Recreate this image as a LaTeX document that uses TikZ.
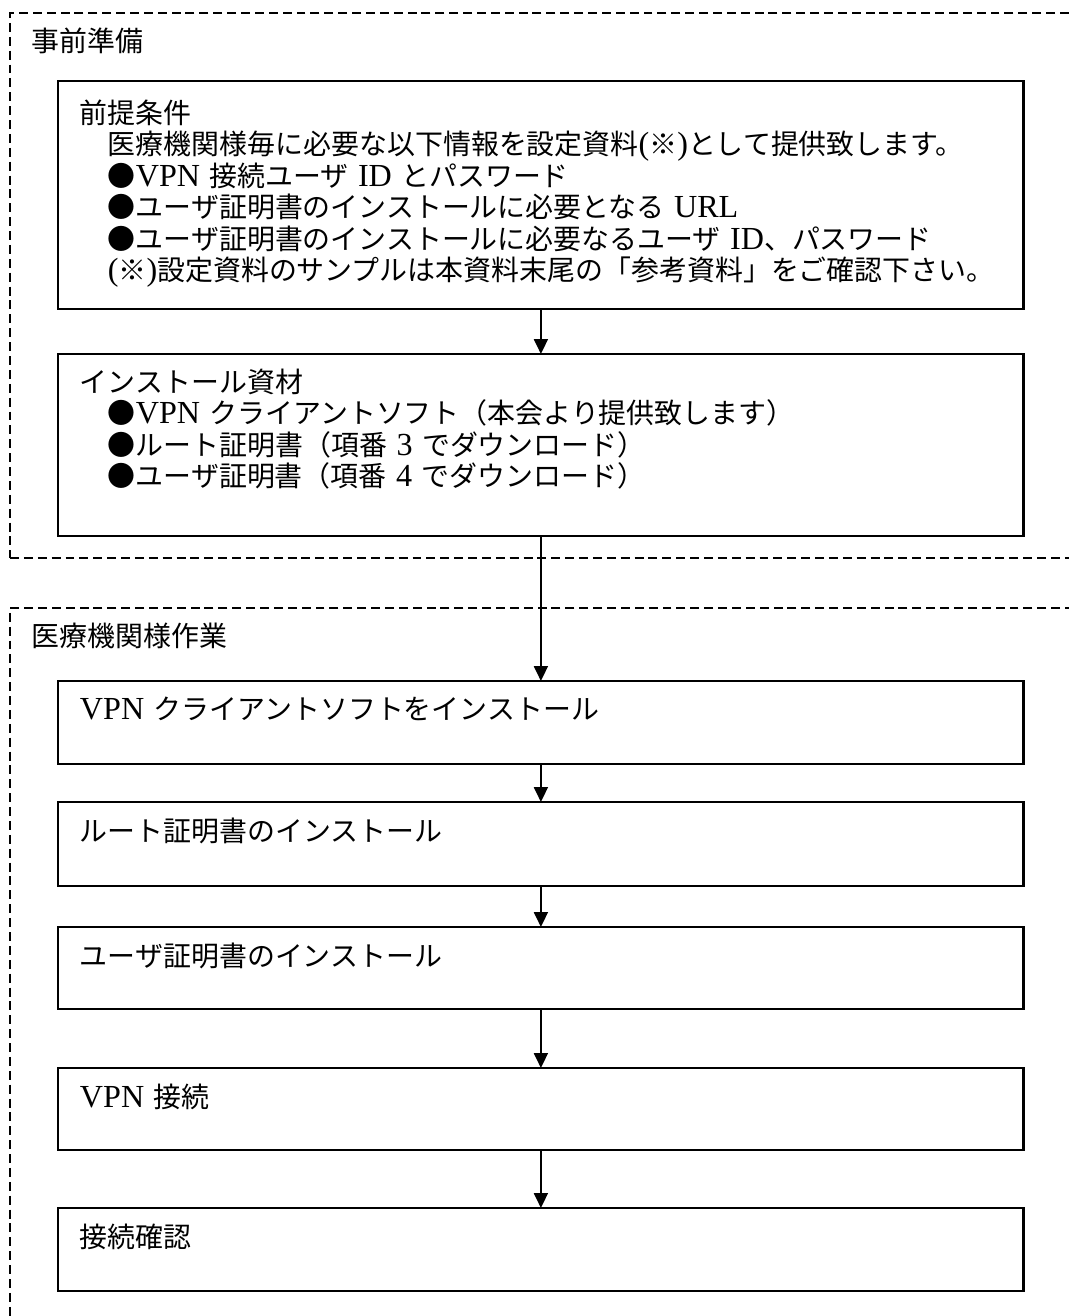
\documentclass[tikz,border=0pt]{standalone}
\usepackage{fontspec}
\setmainfont{Noto Sans CJK JP}[WordSpace=1.5]
\newfontfamily\latinfont{Liberation Serif}[Scale=1.15]
\usetikzlibrary{arrows.meta,positioning}
\newcommand{\lt}[1]{{\latinfont #1}}
\newcommand{\refmark}{\lt{(}※\lt{)}}

\begin{document}
\begin{tikzpicture}[
    x=0.02cm, y=-0.02cm,
    font=\fontsize{15.9pt}{17.86pt}\selectfont,
    group/.style={draw, line width=1.1pt, dash pattern=on 5.1pt off 2.8pt,
        rectangle, anchor=north west, inner sep=0, outer sep=0, minimum width=21.8cm},
    stepbox/.style={draw, line width=1.5pt, rectangle, anchor=north west,
        inner sep=0, outer sep=0, minimum width=19.32cm},
    steptext/.style={anchor=north west, align=left, inner sep=0, outer sep=0},
    flow/.style={line width=1.1pt, -{Triangle[length=0.3cm, width=0.28cm]}}]

\useasboundingbox (0,0) rectangle (1069,1316);
\fill[white] (0,0) rectangle (1069,1316);
\clip (0,0) rectangle (1069,1316);

% dashed groups
\node[group, minimum height=10.9cm] (prep) at (10,13) {};
\node[group, minimum height=16cm] (work) at (10,608) {};
\node[steptext, below right=0.3cm and 0.44cm of prep.north west] (preplabel) {事前準備};
\node[steptext, below right=0.3cm and 0.44cm of work.north west] (worklabel) {医療機関様作業};

% boxes
\node[stepbox, minimum height=4.56cm] (pre) at (58,81) {};
\node[stepbox, minimum height=3.64cm] (mat) at (58,354) {};
\node[stepbox, minimum height=1.66cm] (client) at (58,681) {};
\node[stepbox, minimum height=1.68cm] (rootcert) at (58,802) {};
\node[stepbox, minimum height=1.64cm] (usercert) at (58,927) {};
\node[stepbox, minimum height=1.64cm] (vpn) at (58,1068) {};
\node[stepbox, minimum height=1.66cm] (check) at (58,1208) {};

% texts
\node[steptext, below right=0.38cm and 0.44cm of pre.north west] (pretext) {%
前提条件\\
　医療機関様毎に必要な以下情報を設定資料\refmark として提供致します。\\
　●\lt{VPN} 接続ユーザ \lt{ID} とパスワード\\
　●ユーザ証明書のインストールに必要となる \lt{URL}\\
　●ユーザ証明書のインストールに必要なるユーザ \lt{ID}、パスワード\\
　\refmark 設定資料のサンプルは本資料末尾の「参考資料」をご確認下さい。};
\node[steptext, below right=0.3cm and 0.44cm of mat.north west] (mattext) {%
インストール資材\\
　●\lt{VPN} クライアントソフト（本会より提供致します）\\
　●ルート証明書（項番 \lt{3} でダウンロード）\\
　●ユーザ証明書（項番 \lt{4} でダウンロード）};
\node[steptext, below right=0.32cm and 0.44cm of client.north west] (clienttext) {\lt{VPN} クライアントソフトをインストール};
\node[steptext, below right=0.32cm and 0.44cm of rootcert.north west] (roottext) {ルート証明書のインストール};
\node[steptext, below right=0.32cm and 0.44cm of usercert.north west] (usertext) {ユーザ証明書のインストール};
\node[steptext, below right=0.32cm and 0.44cm of vpn.north west] (vpntext) {\lt{VPN} 接続};
\node[steptext, below right=0.32cm and 0.44cm of check.north west] (checktext) {接続確認};

% arrows
\draw[flow] (pre) -- (mat);
\draw[flow] (mat) -- (client);
\draw[flow] (client) -- (rootcert);
\draw[flow] (rootcert) -- (usercert);
\draw[flow] (usercert) -- (vpn);
\draw[flow] (vpn) -- (check);

\end{tikzpicture}
\end{document}
